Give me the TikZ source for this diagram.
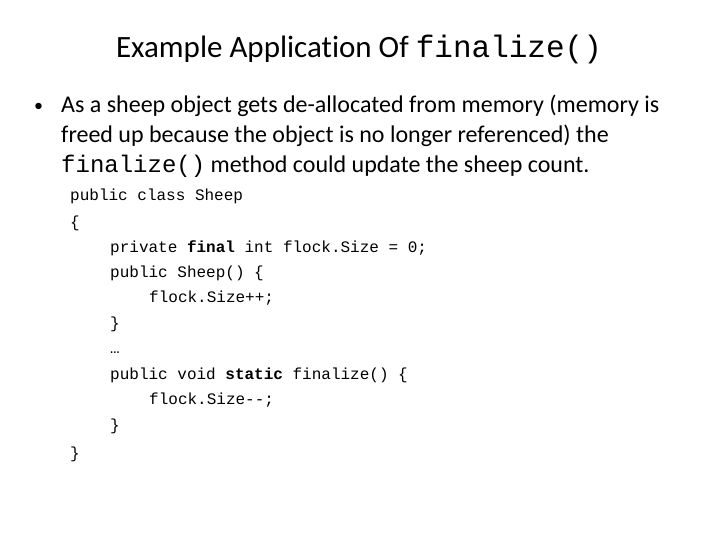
\documentclass[tikz,border=0pt]{standalone}
\usepackage{fontspec}
\setmainfont{Carlito}[RawFeature={-liga;-clig}]
\setmonofont{Liberation Mono}
\tikzset{
  title/.style={font=\fontsize{31}{36}\selectfont, anchor=base},
  bullet/.style={font=\fontsize{24}{28}\selectfont, anchor=base west, inner sep=0pt},
  code/.style={font=\ttfamily\fontsize{16}{19}\selectfont, anchor=base west, inner sep=0pt}
}
\begin{document}
\begin{tikzpicture}[x=1pt,y=-1pt]
  \useasboundingbox (0,0) rectangle (720,540);
  % title
  \node [style=title] (head) at (359,58) {Example Application Of \texttt{finalize()}};
  % bullet
  \node [style=bullet, font=\fontsize{18}{20}\selectfont] (dot) at (34,112) {\textbullet};
  \node [style=bullet] (b1) at (61,113) {As a sheep object gets de-allocated from memory (memory is};
  \node [style=bullet] (b2) at (61,143) {freed up because the object is no longer referenced) the};
  \node [style=bullet] (b3) at (61,173) {\texttt{finalize()} method could update the sheep count.};
  % code listing
  \node [style=code] (c1) at (70,201) {public class Sheep};
  \node [style=code] (c2) at (70,227) {\{};
  \node [style=code] (c3) at (110,252) {private \textbf{final} int flock.Size = 0;};
  \node [style=code] (c4) at (110,277) {public Sheep() \{};
  \node [style=code] (c5) at (149,302) {flock.Size++;};
  \node [style=code] (c6) at (110,328) {\}};
  \node [style=code] (c7) at (110,353) {…};
  \node [style=code] (c8) at (110,379) {public void \textbf{static} finalize() \{};
  \node [style=code] (c9) at (149,404) {flock.Size--;};
  \node [style=code] (c10) at (110,430) {\}};
  \node [style=code] (c11) at (70,458) {\}};
\end{tikzpicture}
\end{document}
